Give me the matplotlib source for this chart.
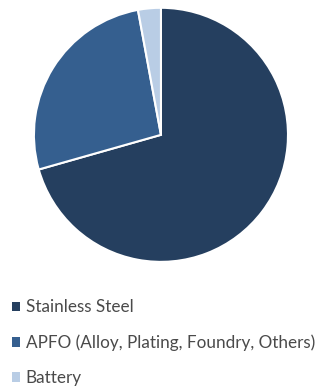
import matplotlib
matplotlib.use('Agg')
import matplotlib.pyplot as plt
from matplotlib.patches import Patch

labels = ['Stainless Steel', 'APFO (Alloy, Plating, Foundry, Others)', 'Battery']
shares = [70.6, 26.5, 2.9]
colors = ['#253F5F', '#355F8F', '#B9CDE5']

plt.rcParams['font.family'] = ['Lato', 'DejaVu Sans']

fig = plt.figure(figsize=(3.2, 3.88), dpi=100)
ax = fig.add_axes([0.106, 0.325, 0.794, 0.655])
ax.pie(shares, colors=colors, startangle=90, counterclock=False,
       wedgeprops=dict(edgecolor='white', linewidth=1.5))
ax.set_xlim(-1.0, 1.0)
ax.set_ylim(-1.0, 1.0)
ax.set_aspect('equal')

# legend below the pie, small square keys
handles = [Patch(facecolor=c, edgecolor='none') for c in colors]
fig.legend(handles, labels, loc='upper left', bbox_to_anchor=(0.005, 0.255),
           frameon=False, fontsize=12.3, labelcolor='#4A4A4A',
           handlelength=0.45, handleheight=0.45, handletextpad=0.35,
           labelspacing=1.12, borderaxespad=0.2)

fig.savefig('out.png', dpi=100)
